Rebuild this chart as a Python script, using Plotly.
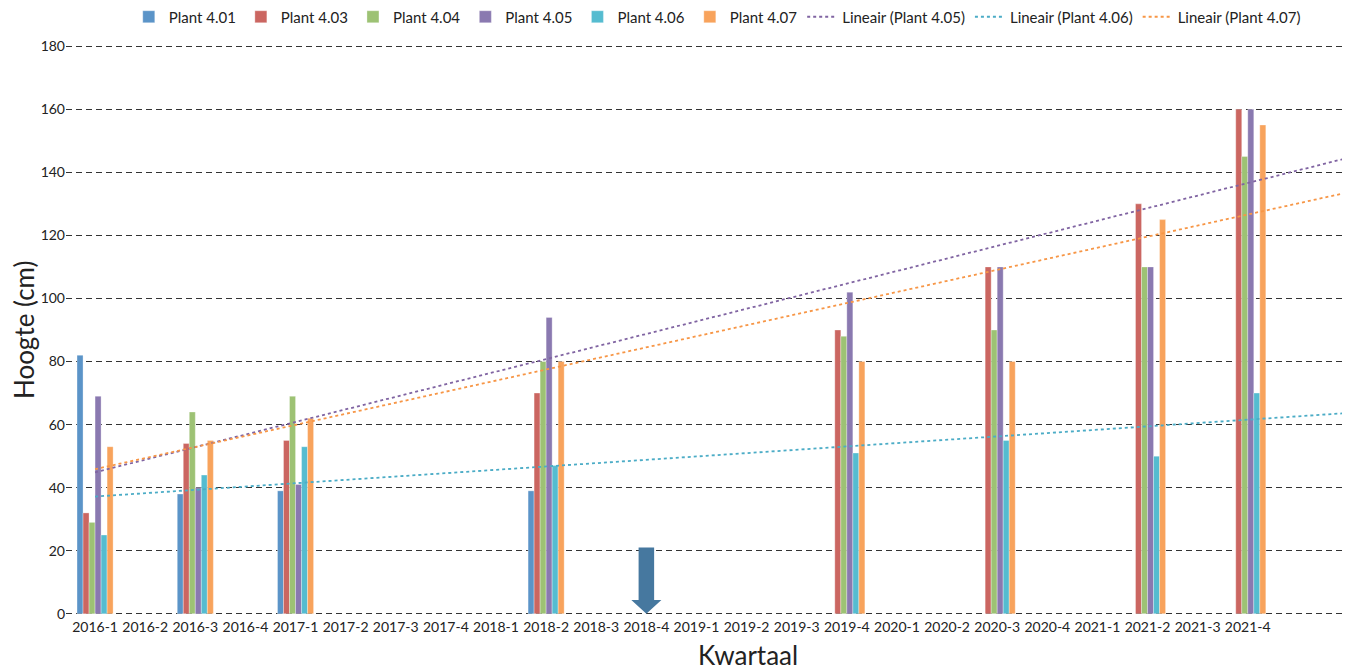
import numpy as np
import plotly.graph_objects as go

quarters = [f"{y}-{q}" for y in range(2016, 2022) for q in range(1, 5)]

series_names = ["Plant 4.01", "Plant 4.03", "Plant 4.04", "Plant 4.05", "Plant 4.06", "Plant 4.07"]
measured_quarters = ["2016-1", "2016-3", "2017-1", "2018-2", "2019-4", "2020-3", "2021-2", "2021-4"]
plant_401 = [82, 38, 39, 39, None, None, None, None]
plant_403 = [32, 54, 55, 70, 90, 110, 130, 160]
plant_404 = [29, 64, 69, 80, 88, 90, 110, 145]
plant_405 = [69, 40, 41, 94, 102, 110, 110, 160]
plant_406 = [25, 44, 53, 47, 51, 55, 50, 70]
plant_407 = [53, 55, 62, 80, 80, 80, 125, 155]
series_values = [plant_401, plant_403, plant_404, plant_405, plant_406, plant_407]
bar_colors = ["#5B94C8", "#CB6661", "#9DC274", "#8A79B0", "#55BCD0", "#F8A35C"]

trend_series = ["Plant 4.05", "Plant 4.06", "Plant 4.07"]
trend_colors = ["#8064A2", "#4BACC6", "#F79646"]
forecast_periods = 2

arrow_quarter = "2018-4"
arrow_top = 21

FONT = "Lato, 'Open Sans', sans-serif"
TXT = "#222222"

# page body has an 8px default margin; the figure is shrunk so it still fills the window
W, H, OFF = 1350, 670, 8

qidx = {q: i for i, q in enumerate(quarters)}
mx = [qidx[q] for q in measured_quarters]
xall = list(range(len(quarters)))

fig = go.Figure()
for name, vals, col in zip(series_names, series_values, bar_colors):
    full = [None] * len(quarters)
    for x, v in zip(mx, vals):
        full[x] = v
    fig.add_trace(go.Bar(
        x=xall, y=full, name=name,
        marker=dict(color=col, line=dict(color="rgba(255,255,255,0.45)", width=0.7)),
    ))

for name, col in zip(trend_series, trend_colors):
    vals = series_values[series_names.index(name)]
    xs = np.array([x for x, v in zip(mx, vals) if v is not None], dtype=float)
    ys = np.array([v for v in vals if v is not None], dtype=float)
    slope, intercept = np.polyfit(xs, ys, 1)
    lx = np.array([0, len(quarters) - 1 + forecast_periods], dtype=float)
    fig.add_trace(go.Scatter(
        x=lx, y=slope * lx + intercept, mode="lines",
        name=f"Lineair ({name})",
        line=dict(color=col, width=1.8, dash="dot"),
    ))

# arrow marker
ax = qidx[arrow_quarter]
sw, hw, hb = 0.155, 0.30, 4.4
path = (f"M {ax-sw},{arrow_top} L {ax+sw},{arrow_top} L {ax+sw},{hb} L {ax+hw},{hb} "
        f"L {ax},0 L {ax-hw},{hb} L {ax-sw},{hb} Z")
fig.add_shape(type="path", path=path, xref="x", yref="y",
              fillcolor="#46789F", line=dict(width=0), layer="above")

l, t, b, r = 66 - OFF, 35, 53, 7
ph = (H - OFF) - t - b
y0px = 614 - OFF  # page y of value 0, in figure coords
ytop_px = 46 - OFF

fig.update_layout(
    width=W - OFF, height=H - OFF,
    margin=dict(l=l, r=r, t=t, b=b, autoexpand=False),
    paper_bgcolor="white", plot_bgcolor="white",
    barmode="group", bargap=0.28, bargroupgap=0,
    font=dict(family=FONT, color=TXT, size=14),
    showlegend=True,
    legend=dict(orientation="h", x=0.51, xanchor="center", y=1 + (t - 9) / ph,
                yanchor="middle", font=dict(size=15, family=FONT, color=TXT),
                itemwidth=30, tracegroupgap=0),
    xaxis=dict(range=[-0.58, 24.9], tickmode="array", tickvals=xall,
               ticktext=quarters, showgrid=False, zeroline=False, showline=False,
               ticks="", tickfont=dict(size=14, family=FONT, color=TXT)),
    yaxis=dict(range=[-1, 181], tickvals=list(range(0, 181, 20)), showgrid=True,
               gridcolor="#333333", griddash="6px,4px", gridwidth=1, zeroline=False,
               showline=False, ticks="", tickfont=dict(size=14, family=FONT, color=TXT)),
    annotations=[
        dict(text="Hoogte (cm)", xref="paper", yref="paper", x=-(l - 16) / (W - OFF - l - r),
             y=0.5, textangle=-90, showarrow=False, xanchor="center", yanchor="middle",
             font=dict(size=26, family=FONT, color=TXT)),
        dict(text="Kwartaal", xref="paper", yref="paper", x=(740 - l) / (W - OFF - l - r),
             y=-(655 - 8 - (H - OFF - b)) / ph, showarrow=False, xanchor="center",
             yanchor="middle", font=dict(size=26, family=FONT, color=TXT)),
    ],
)

fig.write_html("out.html")
